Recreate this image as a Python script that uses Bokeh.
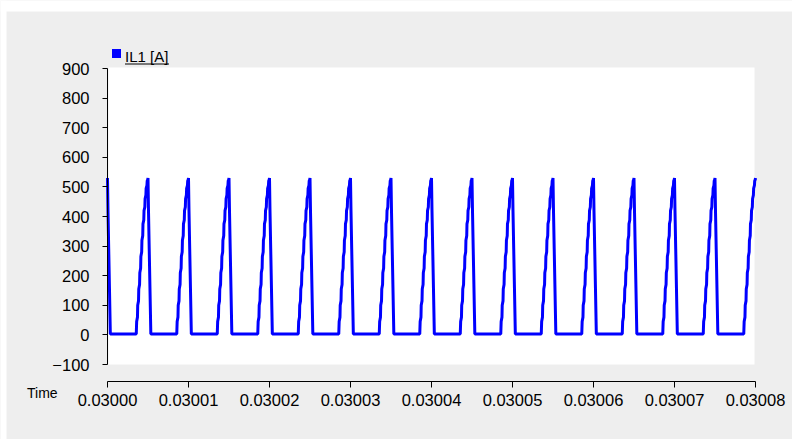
from bokeh.plotting import figure
from bokeh.models import FixedTicker, PrintfTickFormatter, BoxAnnotation, ColumnDataSource
from bokeh.embed import file_html
from bokeh.resources import INLINE
from bokeh.core.properties import value

# ---- data ----
T0 = 0.03000
T_END = 0.03008
series_name = "IL1 [A]"
x_label = "Time"
# peak instants of the inductor current, microseconds after T0
peak_times_us = [0.0, 5.0, 10.0, 15.0, 20.0, 25.0, 30.0, 35.0, 40.0,
                 45.0, 50.0, 55.0, 60.0, 65.0, 70.0, 75.0, 80.0]
# shape of one pulse around its peak (offset in microseconds, current in A)
pulse_offsets_us = [-1.45, -1.40, -1.30, -1.27, -1.17, -1.14, -1.04, -1.01,
                    -0.91, -0.88, -0.78, -0.75, -0.65, -0.62, -0.52, -0.49,
                    -0.39, -0.36, -0.26, -0.23, -0.13, -0.10, -0.02, 0.0,
                    0.06, 0.15, 0.35]
pulse_values = [3, 45, 60, 100, 115, 155, 170, 210,
                225, 265, 280, 320, 335, 375, 388, 420,
                432, 460, 472, 495, 505, 520, 526, 530,
                420, 290, 3]
x_ticks = [0.03000, 0.03001, 0.03002, 0.03003, 0.03004,
           0.03005, 0.03006, 0.03007, 0.03008]
y_ticks = [-100, 0, 100, 200, 300, 400, 500, 600, 700, 800, 900]
Y_MIN, Y_MAX = -100, 900

# ---- build the series (only the recorded window T0..T_END) ----
xs, ys = [], []
for pk in peak_times_us:
    for off, v in zip(pulse_offsets_us, pulse_values):
        us = pk + off
        if -1e-9 <= us <= 80.0 + 1e-9:
            xs.append(T0 + us * 1e-6)
            ys.append(v)
src = ColumnDataSource(data=dict(t=xs, i=ys))

FONT = "Liberation Sans"
GRAY = "#eeeeee"
W, H = 792, 439

# pixel <-> data helpers (layout: time axis 107..755 px, 0 A at 334.4 px)
def px_to_t(px):
    return T0 + (px - 107.0) / 8.1 * 1e-6

def py_to_v(py):
    return (334.4 - py) / 0.296

p = figure(width=W, height=H,
           x_range=(px_to_t(0), px_to_t(W)), y_range=(py_to_v(H), py_to_v(0)),
           output_backend="svg", toolbar_location=None,
           min_border=0, min_border_left=0, min_border_right=0,
           min_border_top=0, min_border_bottom=0)
p.background_fill_color = GRAY
p.border_fill_color = GRAY
p.outline_line_color = None
p.xgrid.visible = False
p.ygrid.visible = False

# white page margin above and left of the gray panel
p.add_layout(BoxAnnotation(bottom=py_to_v(11), fill_color="white", fill_alpha=1.0,
                           line_color=None, level="underlay"))
p.add_layout(BoxAnnotation(right=px_to_t(6), fill_color="white", fill_alpha=1.0,
                           line_color=None, level="underlay"))

# white plotting area
p.add_layout(BoxAnnotation(left=px_to_t(108), right=px_to_t(754),
                           bottom=Y_MIN, top=py_to_v(67), fill_color="white",
                           fill_alpha=1.0, line_color=None, level="underlay"))

p.line("t", "i", source=src, line_color="#0000ff", line_width=3)

# y axis, pinned at the start of the time range
ya = p.yaxis[0]
ya.fixed_location = T0
ya.ticker = FixedTicker(ticks=y_ticks)
ya.bounds = (Y_MIN, Y_MAX)
ya.major_tick_in = 0
ya.major_tick_out = 5
ya.minor_tick_line_color = None
ya.major_label_standoff = 13
ya.major_label_text_font = FONT
ya.major_label_text_font_size = "16.5px"
ya.major_label_text_color = "black"
ya.axis_line_color = "black"
ya.major_tick_line_color = "black"

# x axis, pinned a little below the white area
xa = p.xaxis[0]
xa.fixed_location = py_to_v(381)
xa.ticker = FixedTicker(ticks=x_ticks)
xa.bounds = (T0, T_END)
xa.formatter = PrintfTickFormatter(format="%.5f")
xa.major_tick_in = 0
xa.major_tick_out = 6
xa.minor_tick_line_color = None
xa.major_label_standoff = 6
xa.major_label_text_font = FONT
xa.major_label_text_font_size = "16.5px"
xa.major_label_text_color = "black"
xa.axis_line_color = "black"
xa.major_tick_line_color = "black"

# legend drawn by hand (square, text, underline)
p.scatter([px_to_t(116)], [py_to_v(53)], marker="square", size=9,
          fill_color="#0000ff", line_color=None)
p.text([px_to_t(124.5)], [py_to_v(55.5)], text=[series_name],
       text_font=value(FONT), text_font_size="15px", text_color="black",
       text_baseline="middle", text_align="left")
p.segment([px_to_t(124.5)], [py_to_v(63.5)], [px_to_t(168.5)], [py_to_v(63.5)],
          line_color="black", line_width=1)

# caption "Time" left of the x-axis labels
p.text([px_to_t(26.5)], [py_to_v(392.5)], text=[x_label],
       text_font=value(FONT), text_font_size="14px", text_color="black",
       text_baseline="middle", text_align="left")

open("out.html", "w").write(file_html(p, INLINE))
